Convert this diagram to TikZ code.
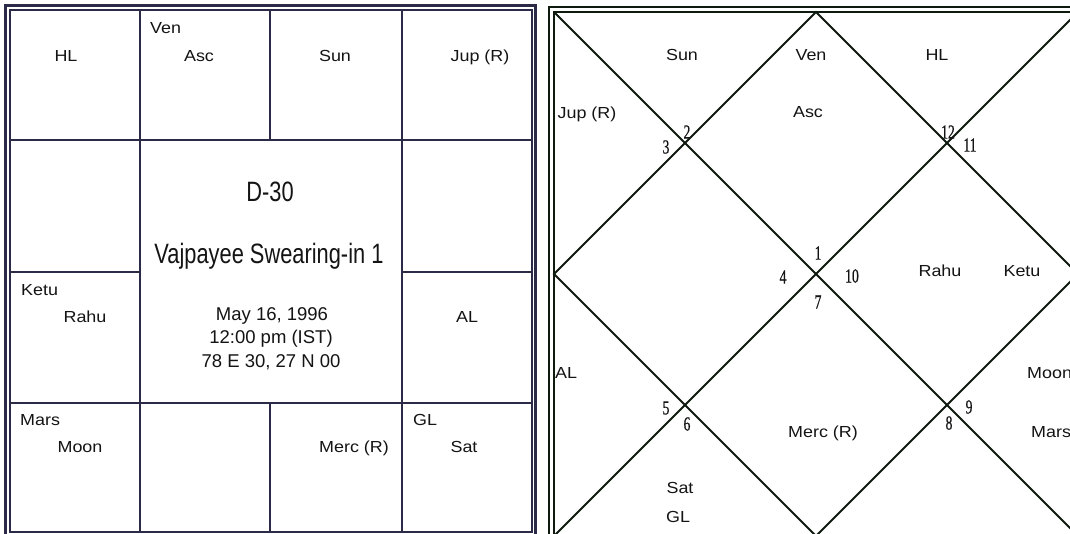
\documentclass[tikz,border=0pt]{standalone}
\usepackage{fontspec}
\newfontfamily\planetfont[FakeStretch=1.12]{Liberation Sans}
\newfontfamily\titlefont[FakeStretch=0.78]{Liberation Sans}
\newfontfamily\datefont{Liberation Sans}
\newfontfamily\numfont[FakeStretch=0.68,FakeBold=0.6]{Liberation Serif}
\definecolor{navy}{HTML}{2B2B48}
\definecolor{dgreen}{HTML}{0F1A0F}
\definecolor{txt}{HTML}{141414}
\tikzset{
  pl/.style={font=\planetfont\fontsize{16}{18}\selectfont, text=txt, inner sep=0pt},
  ttl/.style={font=\titlefont\fontsize{28}{30}\selectfont, text=txt, inner sep=0pt},
  dt/.style={font=\datefont\fontsize{18.5}{20}\selectfont, text=txt, inner sep=0pt},
  num/.style={font=\numfont\fontsize{20}{22}\selectfont, text=txt, inner sep=0pt},
  gridl/.style={draw=navy, line width=2.4pt},
  diagl/.style={draw=dgreen, line width=1.8pt},
}
\begin{document}
\begin{tikzpicture}[x=1pt,y=-1pt]
\useasboundingbox (0,0) rectangle (1070,533);
\clip (0,0) rectangle (1070,533);
\fill[white] (0,0) rectangle (1070,533);
% ---------------- left (South Indian) chart ----------------
\coordinate (Lnw) at (10,10);
\coordinate (Lse) at (532,532);
\draw[navy, line width=3pt] (5.5,5.5) rectangle (535.5,536);
\draw[gridl] (Lnw) rectangle (Lse);
\draw[gridl] (140,10) -- (140,532);
\draw[gridl] (402,10) -- (402,532);
\draw[gridl] (10,140) -- (532,140);
\draw[gridl] (10,403) -- (532,403);
\draw[gridl] (270,10) -- (270,140);
\draw[gridl] (270,403) -- (270,532);
\draw[gridl] (10,272) -- (140,272);
\draw[gridl] (402,272) -- (532,272);
% planets
\node[pl, anchor=base] (lHL) at (66,61) {HL};
\node[pl, anchor=base west] (lVen) at (150,33) {Ven};
\node[pl, anchor=base] (lAsc) at (199,61) {Asc};
\node[pl, anchor=base] (lSun) at (335,61) {Sun};
\node[pl, anchor=base] (lJup) at (480,61) {Jup (R)};
\node[pl, anchor=base west] (lKetu) at (21,295) {Ketu};
\node[pl, anchor=base] (lRahu) at (85,322) {Rahu};
\node[pl, anchor=base] (lAL) at (467,322) {AL};
\node[pl, anchor=base west] (lMars) at (20,425) {Mars};
\node[pl, anchor=base] (lMoon) at (80,452) {Moon};
\node[pl, anchor=base] (lMerc) at (354,452) {Merc (R)};
\node[pl, anchor=base west] (lGL) at (413,425) {GL};
\node[pl, anchor=base] (lSat) at (464,452) {Sat};
% centre
\node[ttl, anchor=base] (title) at (270,201) {D-30};
\node[ttl, anchor=base] (event) at (269,263) {Vajpayee Swearing-in 1};
\node[dt, anchor=base] (date) at (272,320) {May 16, 1996};
\node[dt, anchor=base] (time) at (271,343) {12:00 pm (IST)};
\node[dt, anchor=base] (place) at (271,367) {78 E 30, 27 N 00};
% ---------------- right (North Indian) chart ----------------
\coordinate (Rnw) at (554,12);
\coordinate (Rne) at (1078,12);
\coordinate (Rsw) at (554,536);
\coordinate (Rse) at (1078,536);
\coordinate (Rt) at (816,12);
\coordinate (Rr) at (1078,274);
\coordinate (Rb) at (816,536);
\coordinate (Rl) at (554,274);
\draw[dgreen, line width=2.2pt] (549,7) rectangle (1083,541);
\draw[dgreen, line width=1.4pt] (Rnw) rectangle (Rse);
\draw[diagl] (Rnw) -- (Rse);
\draw[diagl] (Rne) -- (Rsw);
\draw[diagl] (Rt) -- (Rr) -- (Rb) -- (Rl) -- cycle;
% planets
\node[pl, anchor=base] (rSun) at (682,60) {Sun};
\node[pl, anchor=base] (rVen) at (811,60) {Ven};
\node[pl, anchor=base] (rHL) at (937,60) {HL};
\node[pl, anchor=base] (rJup) at (587,118) {Jup (R)};
\node[pl, anchor=base] (rAsc) at (808,117) {Asc};
\node[pl, anchor=base] (rRahu) at (940,276) {Rahu};
\node[pl, anchor=base] (rKetu) at (1022,276) {Ketu};
\node[pl, anchor=base west] (rAL) at (555,378) {AL};
\node[pl, anchor=base west] (rMoon) at (1027,378) {Moon};
\node[pl, anchor=base] (rMerc) at (823,437) {Merc (R)};
\node[pl, anchor=base west] (rMars) at (1031,437) {Mars};
\node[pl, anchor=base] (rSat) at (680,493) {Sat};
\node[pl, anchor=base west] (rGL) at (666,522) {GL};
% house numbers
\node[num] (h2) at (687,132) {2};
\node[num] (h3) at (666,147) {3};
\node[num] (h12) at (948,132) {12};
\node[num] (h11) at (970,145) {11};
\node[num] (h1) at (818,253) {1};
\node[num] (h4) at (783,277) {4};
\node[num] (h10) at (852,276) {10};
\node[num] (h7) at (818,302) {7};
\node[num] (h5) at (666,408) {5};
\node[num] (h6) at (687,424) {6};
\node[num] (h9) at (969,407) {9};
\node[num] (h8) at (949,423) {8};
\end{tikzpicture}
\end{document}
